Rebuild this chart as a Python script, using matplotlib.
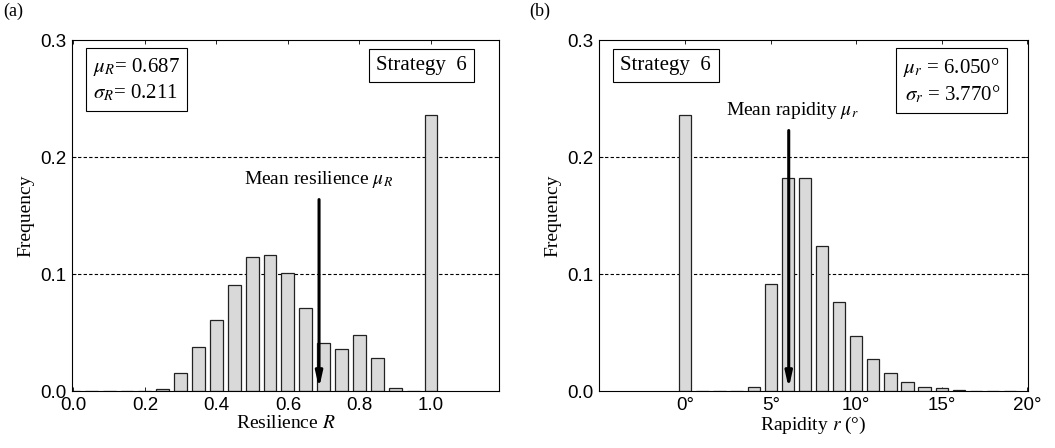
import numpy as np
import matplotlib
matplotlib.use('Agg')
import matplotlib.pyplot as plt

plt.rcParams['mathtext.fontset'] = 'stix'

# (a) resilience histogram
R_centers = [0.00, 0.05, 0.10, 0.15, 0.20, 0.25, 0.30, 0.35, 0.40, 0.45, 0.50,
             0.55, 0.60, 0.65, 0.70, 0.75, 0.80, 0.85, 0.90, 0.95, 1.00]
R_freq = [0.0, 0.0, 0.0, 0.0, 0.0, 0.0015, 0.015, 0.038, 0.061, 0.091, 0.1145,
          0.116, 0.101, 0.071, 0.041, 0.036, 0.048, 0.028, 0.003, 0.0, 0.236]
R_mean = 0.687
R_std = 0.211

# (b) rapidity histogram
r_centers = [0, 1, 2, 3, 4, 5, 6, 7, 8, 9, 10, 11, 12, 13, 14, 15, 16, 17, 18, 19]
r_freq = [0.236, 0.0, 0.0, 0.0, 0.0035, 0.0915, 0.182, 0.182, 0.124, 0.0764,
          0.0474, 0.0272, 0.015, 0.0077, 0.0037, 0.0023, 0.001, 0.0, 0.0, 0.0]
r_mean = 6.05
r_std = 3.77
r_ticks = [0, 5, 10, 15, 20]
r_ticklabels = ['0°', '5°', '10°', '15°', '20°']

serif = ['Liberation Serif', 'DejaVu Serif']
sans = ['Liberation Sans', 'DejaVu Sans']

fig = plt.figure(figsize=(10.55, 4.48), dpi=100)
axA = fig.add_axes([0.0682, 0.1272, 0.4047, 0.7835])
axB = fig.add_axes([0.5678, 0.1272, 0.4066, 0.7835])

def style(ax):
    ax.set_ylim(0, 0.3)
    ax.set_yticks([0.0, 0.1, 0.2, 0.3])
    ax.set_yticklabels(['0.0', '0.1', '0.2', '0.3'], family=sans, fontsize=13.5)
    for y in [0.1, 0.2]:
        ax.axhline(y, color='k', ls=(0, (3, 2)), lw=0.8, zorder=1)
    ax.tick_params(direction='in', top=True, right=True, length=3, width=0.6, pad=4)
    for s in ax.spines.values():
        s.set_linewidth(0.8)
    ax.set_ylabel('Frequency', family=serif, fontsize=14, labelpad=4)

def box(ax, x, y, txt, ha):
    ax.text(x, y, txt, transform=ax.transAxes, ha=ha, va='top', family=serif,
            fontsize=15, linespacing=1.3,
            bbox=dict(boxstyle='square,pad=0.35', fc='white', ec='k', lw=0.8))

# panel a
axA.bar(R_centers, R_freq, width=0.036, color='#d9d9d9', edgecolor='#222222',
        linewidth=0.9, zorder=2)
axA.set_xlim(-0.004, 1.19)
axA.set_xticks([0.0, 0.2, 0.4, 0.6, 0.8, 1.0])
axA.set_xticklabels(['0.0', '0.2', '0.4', '0.6', '0.8', '1.0'], family=sans, fontsize=13.5)
style(axA)
axA.set_xlabel(r'Resilience $R$', family=serif, fontsize=14, labelpad=1)
axA.annotate('', xy=(R_mean, 0.0), xytext=(R_mean, 0.166),
             arrowprops=dict(arrowstyle='-|>,head_length=0.9,head_width=0.2', lw=2.2,
                             color='k'), zorder=4)
axA.text(R_mean, 0.172, r'Mean resilience $\mu_R$', ha='center', va='bottom',
         family=serif, fontsize=14)
box(axA, 0.05, 0.955, r'$\mu_R$= %.3f' % R_mean + '\n' + r'$\sigma_R$= %.3f' % R_std, 'left')
box(axA, 0.925, 0.955, 'Strategy  6', 'right')
fig.text(0.003, 0.965, '(a)', family=serif, fontsize=13)

# panel b
axB.bar(r_centers, r_freq, width=0.72, color='#d9d9d9', edgecolor='#222222',
        linewidth=0.9, zorder=2)
axB.set_xlim(-5.05, 20.05)
axB.set_xticks(r_ticks)
axB.set_xticklabels(r_ticklabels, family=sans, fontsize=13.5)
style(axB)
axB.set_xlabel(r'Rapidity $r$ (°)', family=serif, fontsize=14, labelpad=1)
axB.annotate('', xy=(r_mean, 0.0), xytext=(r_mean, 0.225),
             arrowprops=dict(arrowstyle='-|>,head_length=0.9,head_width=0.2', lw=2.2,
                             color='k'), zorder=4)
axB.text(r_mean + 0.2, 0.231, r'Mean rapidity $\mu_r$', ha='center', va='bottom',
         family=serif, fontsize=14)
box(axB, 0.05, 0.955, 'Strategy  6', 'left')
box(axB, 0.935, 0.955, r'$\mu_r$ = %.3f°' % r_mean + '\n' + r'$\sigma_r$ = %.3f°' % r_std, 'right')
fig.text(0.502, 0.965, '(b)', family=serif, fontsize=13)

fig.savefig('out.png', dpi=100)
